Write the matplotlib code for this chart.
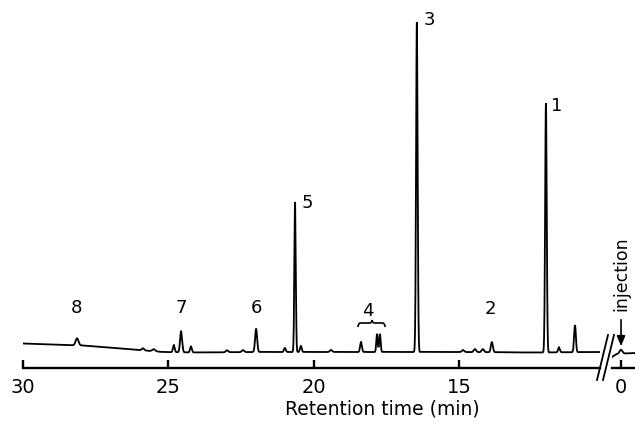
import numpy as np
import matplotlib
matplotlib.use("Agg")
import matplotlib.pyplot as plt
from matplotlib.path import Path
from matplotlib.patches import PathPatch
from matplotlib.lines import Line2D

# ---- data (retention time in min, detector signal in arbitrary units)
baseline_t = [30.0, 29.0, 28.0, 27.3, 26.4, 25.2, 24.0, 22.0, 20.0, 17.0, 15.0, 12.5, 10.0]
baseline_y = [24.5, 23.5, 22.5, 21.0, 19.0, 16.0, 15.5, 16.0, 16.0, 16.0, 16.0, 15.5, 16.0]

peak_times = [28.14, 25.87, 25.50, 24.81, 24.56, 24.22, 22.98, 22.43, 21.98, 20.99, 20.64, 20.44,
              19.40, 18.37, 17.82, 17.72, 16.45, 14.86, 14.45, 14.18, 13.87, 12.01, 11.56, 11.01]
peak_heights = [7, 2, 2, 7, 21, 6, 2, 2, 23, 4, 150, 6,
                2, 10, 18, 18, 330, 2, 3, 3, 10, 249, 5, 27]
peak_widths = [0.05, 0.04, 0.05, 0.03, 0.035, 0.03, 0.04, 0.04, 0.035, 0.03, 0.024, 0.03,
               0.04, 0.03, 0.025, 0.025, 0.027, 0.04, 0.04, 0.04, 0.035, 0.027, 0.03, 0.03]

inj_baseline_t = [0.31, 0.15, -0.48]
inj_baseline_y = [11.0, 14.0, 15.0]
inj_peak_time = [0.0]
inj_peak_height = [4]
inj_peak_width = [0.05]

peak_labels = ["8", "7", "6", "5", "4", "3", "2", "1"]
label_t = [28.16, 24.56, 21.98, 20.23, 18.13, 16.03, 13.93, 11.63]
label_y = [60, 60, 60, 165, 57, 348, 59, 262]

main_ticks = [30, 25, 20, 15]
inj_ticks = [0]


def trace(t, bt, by, pt, ph, pw):
    y = np.interp(t, bt[::-1], by[::-1]) if bt[0] > bt[-1] else np.interp(t, bt, by)
    for c, h, w in zip(pt, ph, pw):
        y = y + h * np.exp(-0.5 * ((t - c) / w) ** 2)
    return y


W, H = 635, 422
fig = plt.figure(figsize=(W / 100, H / 100), dpi=100)
plt.rcParams['font.family'] = ['DejaVu Sans']

bottom = (H - 368) / H
height = 358 / H
ax = fig.add_axes([23 / W, bottom, 577 / W, height])
ax2 = fig.add_axes([612 / W, bottom, 23 / W, height])

t_main = np.arange(10.15, 30.0001, 0.002)
y_main = trace(t_main, baseline_t, baseline_y, peak_times, peak_heights, peak_widths)
ax.plot(t_main, y_main, color="black", lw=1.3, solid_joinstyle="miter")
ax.set_xlim(30, 10.15)
ax.set_ylim(0, 358)

t_inj = np.arange(-0.48, 0.3101, 0.002)
y_inj = trace(t_inj, inj_baseline_t, inj_baseline_y, inj_peak_time, inj_peak_height, inj_peak_width)
ax2.plot(t_inj, y_inj, color="black", lw=1.3)
ax2.set_xlim(0.31, -0.48)
ax2.set_ylim(0, 358)

for a, ticks in ((ax, main_ticks), (ax2, inj_ticks)):
    for s in ("top", "right", "left"):
        a.spines[s].set_visible(False)
    a.spines["bottom"].set_linewidth(1.7)
    a.set_yticks([])
    a.set_xticks(ticks)
    a.set_xticklabels([str(v) for v in ticks])
    a.tick_params(axis="x", direction="in", length=6, width=1.7, labelsize=14, pad=7)
    a.patch.set_alpha(0)

for s, tx, ty in zip(peak_labels, label_t, label_y):
    ax.text(tx, ty, s, fontsize=13, ha="center", va="center")

# brace over group 4
verts = [(18.48, 41), (18.46, 45), (18.40, 45),
         (18.07, 45), (18.00, 45), (17.99, 48),
         (17.98, 45), (17.91, 45),
         (17.62, 45), (17.56, 45), (17.54, 41)]
codes = [Path.MOVETO, Path.CURVE3, Path.CURVE3,
         Path.LINETO, Path.CURVE3, Path.CURVE3,
         Path.CURVE3, Path.CURVE3,
         Path.LINETO, Path.CURVE3, Path.CURVE3]
ax.add_patch(PathPatch(Path(verts, codes), fill=False, lw=1.2, color="black"))

fig.text(382 / W, 1 - 409 / H, "Retention time (min)", fontsize=13.5, ha="center", va="center")

# injection marker
fig.text(621 / W, 1 - 274 / H, "injection", rotation=90, fontsize=12.5, ha="center", va="center")
ax2.annotate("", xy=(0.0, 19), xytext=(0.0, 51),
             arrowprops=dict(arrowstyle="-|>,head_length=0.6,head_width=0.25", color="black", lw=1.2))

# axis break marks
for x0 in (597, 603):
    fig.add_artist(Line2D([x0 / W, (x0 + 11) / W], [1 - 380 / H, 1 - 335 / H],
                          color="black", lw=1.3, transform=fig.transFigure))

fig.savefig("out.png", dpi=100, facecolor="white")
